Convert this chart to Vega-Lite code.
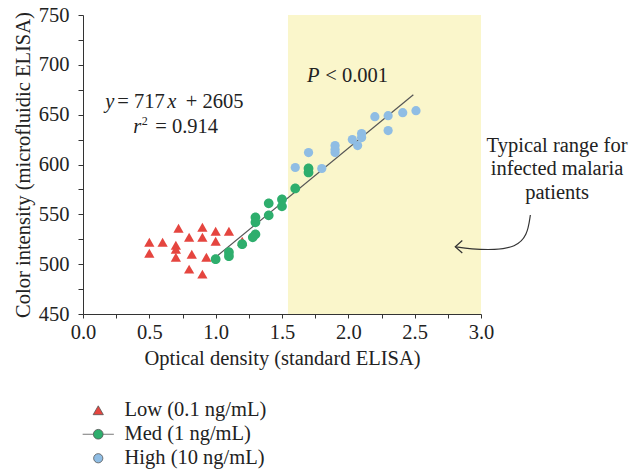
{
  "$schema": "https://vega.github.io/schema/vega-lite/v6.json",
  "width": 398,
  "height": 299,
  "autosize": "none",
  "padding": {"left": 83, "top": 15, "right": 151, "bottom": 157},
  "config": {
    "view": {"stroke": null},
    "font": "Liberation Serif",
    "text": {"font": "Liberation Serif", "fontSize": 20.5, "color": "#222"}
  },
  "encoding": {
    "x": {
      "field": "x", "type": "quantitative",
      "scale": {"domain": [0, 3], "nice": false, "zero": false},
      "axis": {
        "title": "Optical density (standard ELISA)",
        "values": [0, 0.25, 0.5, 0.75, 1, 1.25, 1.5, 1.75, 2, 2.25, 2.5, 2.75, 3],
        "labelExpr": "(datum.value * 2) % 1 == 0 ? format(datum.value, '.1f') : ''",
        "grid": false, "domainColor": "#333", "tickColor": "#333", "tickSize": 4,
        "labelFont": "Liberation Serif", "labelFontSize": 20.5, "labelColor": "#222", "labelPadding": 4,
        "titleFont": "Liberation Serif", "titleFontSize": 20.5, "titleFontWeight": "normal", "titleColor": "#222", "titlePadding": 6,
        "labelFlush": false
      }
    },
    "y": {
      "field": "y", "type": "quantitative",
      "scale": {"domain": [450, 750], "nice": false, "zero": false},
      "axis": {
        "title": "Color intensity (microfluidic ELISA)",
        "values": [450, 475, 500, 525, 550, 575, 600, 625, 650, 675, 700, 725, 750],
        "labelExpr": "datum.value % 50 == 0 ? datum.value : ''",
        "grid": false, "domainColor": "#333", "tickColor": "#333", "tickSize": 5,
        "labelFont": "Liberation Serif", "labelFontSize": 20.5, "labelColor": "#222", "labelPadding": 9,
        "titleFont": "Liberation Serif", "titleFontSize": 20.5, "titleFontWeight": "normal", "titleColor": "#222", "titlePadding": 5,
        "labelFlush": false
      }
    }
  },
  "layer": [
    {
      "data": {"values": [{"x": 1.545, "x2": 3.0, "y": 450, "y2": 750}]},
      "mark": {"type": "rect", "color": "#faf6cb"},
      "encoding": {"x2": {"field": "x2"}, "y2": {"field": "y2"}}
    },
    {
      "data": {"values": [{"x": 1.0, "y": 507}, {"x": 2.49, "y": 670}]},
      "mark": {"type": "line", "color": "#555", "strokeWidth": 1.2},
      "encoding": {}
    },
    {
      "data": {"values": [
        {"x": 0.5, "y": 522, "group": "Low"}, {"x": 0.5, "y": 511, "group": "Low"},
        {"x": 0.6, "y": 522, "group": "Low"}, {"x": 0.72, "y": 536, "group": "Low"},
        {"x": 0.7, "y": 519, "group": "Low"}, {"x": 0.7, "y": 515, "group": "Low"},
        {"x": 0.7, "y": 507, "group": "Low"}, {"x": 0.8, "y": 527, "group": "Low"},
        {"x": 0.82, "y": 510, "group": "Low"}, {"x": 0.8, "y": 495, "group": "Low"},
        {"x": 0.9, "y": 537, "group": "Low"}, {"x": 0.9, "y": 527, "group": "Low"},
        {"x": 0.9, "y": 490, "group": "Low"}, {"x": 0.93, "y": 507, "group": "Low"},
        {"x": 1.0, "y": 533, "group": "Low"}, {"x": 1.0, "y": 523, "group": "Low"},
        {"x": 1.1, "y": 533, "group": "Low"}, {"x": 1.2, "y": 523, "group": "Low"},
        {"x": 1.0, "y": 505, "group": "Med"}, {"x": 1.1, "y": 512, "group": "Med"},
        {"x": 1.1, "y": 508, "group": "Med"}, {"x": 1.2, "y": 520, "group": "Med"},
        {"x": 1.3, "y": 547, "group": "Med"}, {"x": 1.3, "y": 542, "group": "Med"},
        {"x": 1.3, "y": 530, "group": "Med"}, {"x": 1.28, "y": 527, "group": "Med"},
        {"x": 1.4, "y": 561, "group": "Med"}, {"x": 1.4, "y": 549, "group": "Med"},
        {"x": 1.5, "y": 565, "group": "Med"}, {"x": 1.5, "y": 558, "group": "Med"},
        {"x": 1.6, "y": 576, "group": "Med"}, {"x": 1.7, "y": 596, "group": "Med"},
        {"x": 1.7, "y": 592, "group": "Med"},
        {"x": 1.6, "y": 597, "group": "High"}, {"x": 1.7, "y": 612, "group": "High"},
        {"x": 1.8, "y": 596, "group": "High"}, {"x": 1.9, "y": 619, "group": "High"},
        {"x": 1.9, "y": 615, "group": "High"}, {"x": 1.9, "y": 612, "group": "High"},
        {"x": 2.03, "y": 625, "group": "High"}, {"x": 2.07, "y": 619, "group": "High"},
        {"x": 2.1, "y": 631, "group": "High"}, {"x": 2.1, "y": 627, "group": "High"},
        {"x": 2.2, "y": 648, "group": "High"}, {"x": 2.3, "y": 649, "group": "High"},
        {"x": 2.3, "y": 634, "group": "High"}, {"x": 2.41, "y": 652, "group": "High"},
        {"x": 2.51, "y": 654, "group": "High"}
      ]},
      "mark": {"type": "point", "filled": true, "opacity": 1},
      "encoding": {
        "color": {
          "field": "group", "type": "nominal",
          "scale": {"domain": ["Low", "Med", "High"], "range": ["#e5453f", "#2eae6d", "#8fbde4"]},
          "legend": {
            "orient": "none", "legendX": 5, "legendY": 385, "title": null,
            "labelExpr": "datum.value == 'Low' ? 'Low (0.1 ng/mL)' : (datum.value == 'Med' ? 'Med (1 ng/mL)' : 'High (10 ng/mL)')",
            "labelFont": "Liberation Serif", "labelFontSize": 20.5, "labelColor": "#222",
            "labelOffset": 16, "rowPadding": 3, "symbolSize": 90, "padding": 0,
            "symbolStrokeColor": "#555", "symbolStrokeWidth": 0.8
          }
        },
        "shape": {
          "field": "group", "type": "nominal",
          "scale": {"domain": ["Low", "Med", "High"], "range": [
            "triangle-up",
            "M-3.2,0L-1,0M1,0L3.2,0M-1,0A1,1 0 1,0 1,0A1,1 0 1,0 -1,0Z",
            "circle"
          ]},
          "legend": null
        },
        "size": {
          "field": "group", "type": "nominal",
          "scale": {"domain": ["Low", "Med", "High"], "range": [105, 85, 85]},
          "legend": null
        }
      }
    },
    {
      "data": {"values": [
        {"x": 0.168, "y": 656.5, "text": "y"},
        {"x": 0.635, "y": 656.5, "text": "x"},
        {"x": 0.379, "y": 631.5, "text": "r"},
        {"x": 1.688, "y": 683, "text": "P"}
      ]},
      "mark": {"type": "text", "align": "left", "baseline": "alphabetic", "fontStyle": "italic"},
      "encoding": {"text": {"field": "text"}}
    },
    {
      "data": {"values": [
        {"x": 0.259, "y": 656.5, "text": "= 717"},
        {"x": 0.775, "y": 656.5, "text": "+ 2605"},
        {"x": 0.545, "y": 631.5, "text": "= 0.914"},
        {"x": 1.826, "y": 683, "text": "< 0.001"}
      ]},
      "mark": {"type": "text", "align": "left", "baseline": "alphabetic"},
      "encoding": {"text": {"field": "text"}}
    },
    {
      "data": {"values": [{"x": 0.443, "y": 640, "text": "2"}]},
      "mark": {"type": "text", "align": "left", "baseline": "alphabetic", "fontSize": 12},
      "encoding": {"text": {"field": "text"}}
    },
    {
      "data": {"values": [
        {"x": 3.573, "y": 613, "text": "Typical range for"},
        {"x": 3.573, "y": 589, "text": "infected malaria"},
        {"x": 3.573, "y": 565, "text": "patients"}
      ]},
      "mark": {"type": "text", "align": "center", "baseline": "alphabetic"},
      "encoding": {"text": {"field": "text"}}
    },
    {
      "data": {"values": [
        {"x": 3.372, "y": 549.3, "o": 1},
        {"x": 3.349, "y": 528.3, "o": 2},
        {"x": 3.259, "y": 517.1, "o": 3},
        {"x": 3.108, "y": 514.2, "o": 4},
        {"x": 2.92, "y": 515.2, "o": 5},
        {"x": 2.806, "y": 517.5, "o": 6}
      ]},
      "mark": {"type": "line", "color": "#333", "strokeWidth": 1.2, "interpolate": "basis"},
      "encoding": {"order": {"field": "o"}}
    },
    {
      "data": {"values": [
        {"x": 2.859, "y": 523.8, "o": 1},
        {"x": 2.806, "y": 517.5, "o": 2},
        {"x": 2.859, "y": 511.2, "o": 3}
      ]},
      "mark": {"type": "line", "color": "#333", "strokeWidth": 1.2},
      "encoding": {"order": {"field": "o"}}
    }
  ]
}
